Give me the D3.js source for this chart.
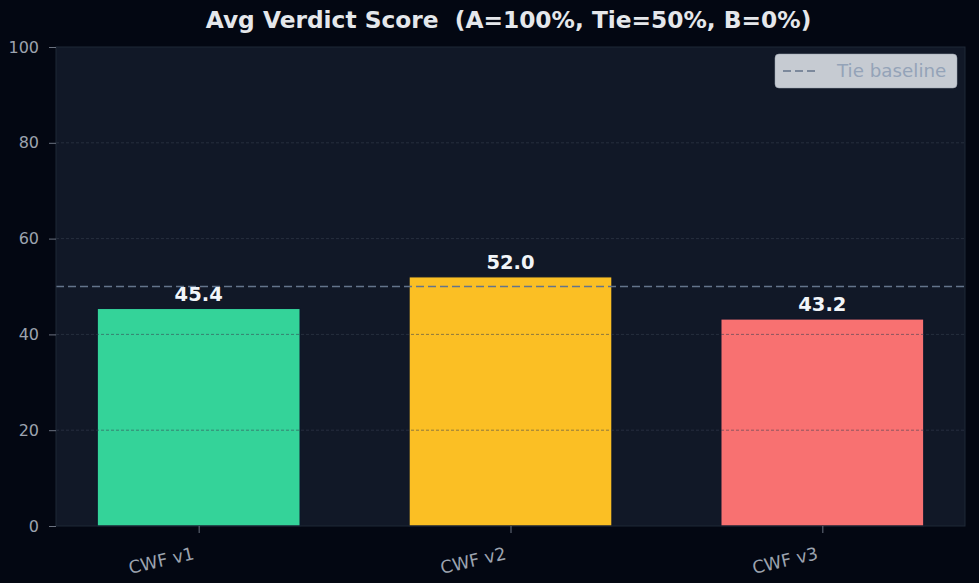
<!DOCTYPE html>
<html>
<head>
<meta charset="utf-8">
<script src="https://cdn.jsdelivr.net/npm/d3@7"></script>
<style>
  html, body { margin: 0; padding: 0; background: #030712; }
  svg { display: block; font-family: "DejaVu Sans", sans-serif; }
  text { white-space: pre; }
</style>
</head>
<body>
<svg id="canvas" width="979" height="583"></svg>
<script>
// chart data
const categories = ["CWF v1", "CWF v2", "CWF v3"];
const scores = [45.4, 52.0, 43.2];
const barColors = ["#34d399", "#fbbf24", "#f87171"];
const yTicks = [0, 20, 40, 60, 80, 100];
const tieValue = 50;

const width = 979, height = 583;
const margin = { top: 47, right: 14, bottom: 57, left: 56 };
const plotW = width - margin.left - margin.right;
const plotH = height - margin.top - margin.bottom;

const svg = d3.select("#canvas");
svg.append("rect").attr("width", width).attr("height", height).attr("fill", "#030712");

const g = svg.append("g").attr("transform", `translate(${margin.left},${margin.top})`);

// matplotlib-like x: bar width 0.65, 5% margins
const barW = 0.65;
const lo = -barW / 2, hi = categories.length - 1 + barW / 2;
const pad = (hi - lo) * 0.05;
let x = d3.scaleLinear().domain([lo - pad, hi + pad]).range([0, plotW]);
let y = d3.scaleLinear().domain([0, 100]).range([plotH, 0]);

g.append("rect").attr("width", plotW).attr("height", plotH).attr("fill", "#111827");

// bars
g.selectAll("rect.bar")
  .data(scores)
  .enter()
  .append("rect")
  .attr("class", "bar")
  .attr("x", (d, i) => x(i - barW / 2))
  .attr("width", (d, i) => x(i + barW / 2) - x(i - barW / 2))
  .attr("y", (d) => y(d))
  .attr("height", (d) => y(0) - y(d))
  .attr("fill", (d, i) => barColors[i])
  .attr("stroke", "#0f172a")
  .attr("stroke-width", 1);

// grid on top of bars
g.selectAll("line.grid")
  .data(yTicks.filter((t) => t > 0 && t < 100))
  .enter()
  .append("line")
  .attr("class", "grid")
  .attr("x1", 0)
  .attr("x2", plotW)
  .attr("y1", (d) => y(d))
  .attr("y2", (d) => y(d))
  .attr("stroke", "#374151")
  .attr("stroke-opacity", 0.7)
  .attr("stroke-width", 0.8)
  .attr("stroke-dasharray", "3,2");

// tie baseline
g.append("line")
  .attr("x1", 0)
  .attr("x2", plotW)
  .attr("y1", y(tieValue))
  .attr("y2", y(tieValue))
  .attr("stroke", "#64748b")
  .attr("stroke-width", 1.6)
  .attr("stroke-dasharray", "8,4");

// value labels
g.selectAll("text.val")
  .data(scores)
  .enter()
  .append("text")
  .attr("class", "val")
  .attr("x", (d, i) => x(i))
  .attr("y", (d) => y(d) - 8)
  .attr("text-anchor", "middle")
  .attr("fill", "#f1f5f9")
  .attr("font-size", 19.5)
  .attr("font-weight", "bold")
  .text((d) => d.toFixed(1));

// frame
g.append("rect")
  .attr("width", plotW)
  .attr("height", plotH)
  .attr("fill", "none")
  .attr("stroke", "#1f2937")
  .attr("stroke-width", 1);

// y axis
const yAxis = g.append("g").call(d3.axisLeft(y).tickValues(yTicks).tickSize(7).tickPadding(10));
yAxis.select(".domain").remove();
yAxis.selectAll("line").attr("stroke", "#6b7280");
yAxis.selectAll("text").attr("fill", "#9ca3af").attr("font-size", 16).attr("font-family", "DejaVu Sans");

// x axis
const xAxis = g.append("g")
  .attr("transform", `translate(0,${plotH})`)
  .call(d3.axisBottom(x).tickValues(d3.range(categories.length)).tickFormat((d) => categories[d]).tickSize(7));
xAxis.select(".domain").remove();
xAxis.selectAll("line").attr("stroke", "#6b7280");
xAxis.selectAll("text")
  .attr("fill", "#9ca3af")
  .attr("font-size", 17.5)
  .attr("font-family", "DejaVu Sans")
  .attr("text-anchor", "end")
  .attr("dy", null)
  .attr("y", 0)
  .attr("transform", "translate(-4,33) rotate(-13)");

// title
svg.append("text")
  .attr("x", margin.left + plotW / 2 - 2)
  .attr("y", 28)
  .attr("text-anchor", "middle")
  .attr("fill", "#e5e7eb")
  .attr("font-size", 23.3)
  .attr("font-weight", "bold")
  .text("Avg Verdict Score  (A=100%, Tie=50%, B=0%)");

// legend
const lg = svg.append("g").attr("transform", "translate(775,54)");
lg.append("rect")
  .attr("width", 182)
  .attr("height", 34)
  .attr("rx", 4)
  .attr("fill", "#d1d5db")
  .attr("fill-opacity", 0.95)
  .attr("stroke", "#9ca3af")
  .attr("stroke-opacity", 0.5);
lg.append("line")
  .attr("x1", 8).attr("x2", 43)
  .attr("y1", 17).attr("y2", 17)
  .attr("stroke", "#64748b")
  .attr("stroke-width", 1.6)
  .attr("stroke-dasharray", "8,4");
lg.append("text")
  .attr("x", 62)
  .attr("y", 23)
  .attr("fill", "#94a3b8")
  .attr("font-size", 18.3)
  .text("Tie baseline");
</script>
</body>
</html>
